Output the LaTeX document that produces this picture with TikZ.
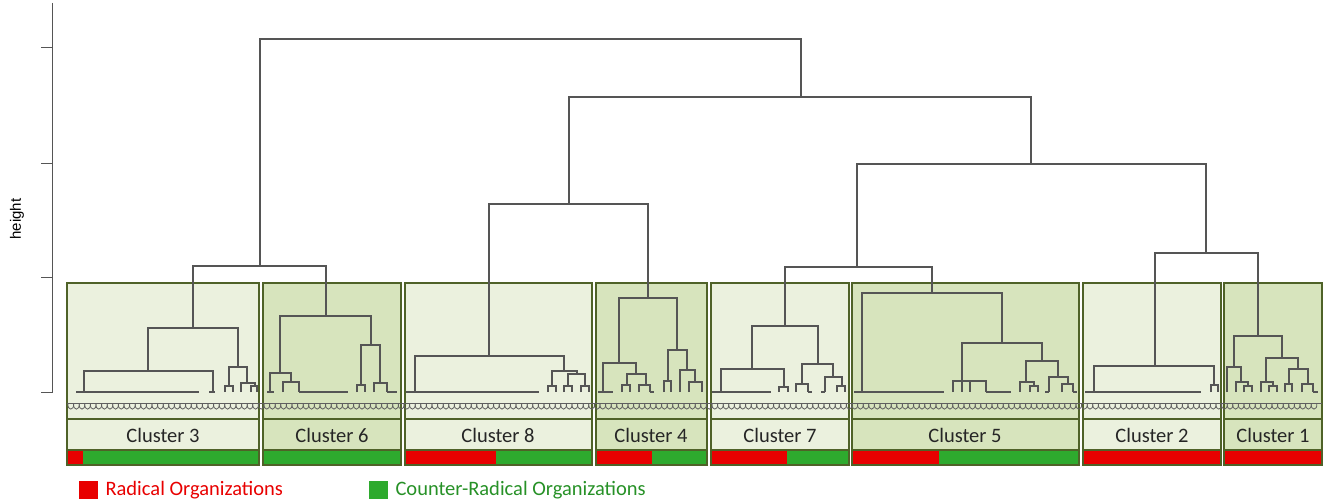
\documentclass[tikz,border=0pt]{standalone}
\usepackage{fontspec}
\setmainfont{Carlito}
\setsansfont{Liberation Sans}
\definecolor{boxlight}{RGB}{235,241,222}
\definecolor{boxdark}{RGB}{215,228,189}
\definecolor{boxedge}{RGB}{79,98,40}
\definecolor{radred}{RGB}{232,0,0}
\definecolor{cradgreen}{RGB}{46,170,46}
\definecolor{treegray}{RGB}{85,85,85}
\definecolor{chaingray}{RGB}{95,95,95}

\begin{document}
\begin{tikzpicture}[x=1pt,y=-1pt,
  tree/.style={draw=treegray,line width=1.1pt},
  axis/.style={draw=treegray,line width=1pt},
  clbox/.style={draw=boxedge,line width=2pt},
  chain/.style={draw=chaingray,line width=0.8pt},
  lab/.style={font=\fontsize{20.5}{23}\selectfont,text=black!85},
  leg/.style={anchor=west,font=\fontsize{20.5}{23}\selectfont}]
\useasboundingbox (0,0) rectangle (1328,503);

\draw[axis] (52,3) -- (52,393);
\draw[axis] (41,48) -- (52,48);
\draw[axis] (41,163) -- (52,163);
\draw[axis] (41,277) -- (52,277);
\draw[axis] (41,392) -- (52,392);
\node[rotate=90,font=\sffamily\fontsize{15}{17}\selectfont] (ylab) at (17,219) {height};

\filldraw[clbox,fill=boxlight] (67,283) rectangle (259,465);
\draw[clbox] (67,419) -- (259,419);
\draw[clbox] (67,450) -- (259,450);
\fill[radred] (68,451) rectangle (83,464);
\fill[cradgreen] (83,451) rectangle (258,464);
\node[lab] (c3) at (163,435) {Cluster 3};

\filldraw[clbox,fill=boxdark] (263,283) rectangle (401,465);
\draw[clbox] (263,419) -- (401,419);
\draw[clbox] (263,450) -- (401,450);
\fill[cradgreen] (264,451) rectangle (400,464);
\node[lab] (c6) at (332,435) {Cluster 6};

\filldraw[clbox,fill=boxlight] (405,283) rectangle (592,465);
\draw[clbox] (405,419) -- (592,419);
\draw[clbox] (405,450) -- (592,450);
\fill[radred] (406,451) rectangle (496,464);
\fill[cradgreen] (496,451) rectangle (591,464);
\node[lab] (c8) at (498,435) {Cluster 8};

\filldraw[clbox,fill=boxdark] (596,283) rectangle (707,465);
\draw[clbox] (596,419) -- (707,419);
\draw[clbox] (596,450) -- (707,450);
\fill[radred] (597,451) rectangle (652,464);
\fill[cradgreen] (652,451) rectangle (706,464);
\node[lab] (c4) at (651,435) {Cluster 4};

\filldraw[clbox,fill=boxlight] (711,283) rectangle (849,465);
\draw[clbox] (711,419) -- (849,419);
\draw[clbox] (711,450) -- (849,450);
\fill[radred] (712,451) rectangle (787,464);
\fill[cradgreen] (787,451) rectangle (848,464);
\node[lab] (c7) at (780,435) {Cluster 7};

\filldraw[clbox,fill=boxdark] (852,283) rectangle (1079,465);
\draw[clbox] (852,419) -- (1079,419);
\draw[clbox] (852,450) -- (1079,450);
\fill[radred] (853,451) rectangle (939,464);
\fill[cradgreen] (939,451) rectangle (1078,464);
\node[lab] (c5) at (965,435) {Cluster 5};

\filldraw[clbox,fill=boxlight] (1083,283) rectangle (1221,465);
\draw[clbox] (1083,419) -- (1221,419);
\draw[clbox] (1083,450) -- (1221,450);
\fill[radred] (1084,451) rectangle (1220,464);
\node[lab] (c2) at (1152,435) {Cluster 2};

\filldraw[clbox,fill=boxdark] (1224,283) rectangle (1322,465);
\draw[clbox] (1224,419) -- (1322,419);
\draw[clbox] (1224,450) -- (1322,450);
\fill[radred] (1225,451) rectangle (1321,464);
\node[lab] (c1) at (1273,435) {Cluster 1};

% leaf labels
\draw[chain] (67,403.5) -- (1322,403.5);
\foreach \x in {68,73.6,...,1316}
  \draw[chain] (\x,403.5) .. controls ({\x-0.8},411) and ({\x+6.4},411) .. ({\x+5.6},403.5);

% merges between clusters
\draw[tree] (193,328) -- (193,266) -- (326,266) -- (326,316);
\draw[tree] (489,356) -- (489,204) -- (648,204) -- (648,298);
\draw[tree] (785,326) -- (785,267) -- (932,267) -- (932,293);
\draw[tree] (1155,366) -- (1155,253) -- (1258,253) -- (1258,336);
\draw[tree] (857,267) -- (857,164) -- (1206,164) -- (1206,253);
\draw[tree] (569,204) -- (569,97) -- (1031,97) -- (1031,164);
\draw[tree] (260,266) -- (260,39) -- (801,39) -- (801,97);

% cluster 3
\draw[tree] (148,371) -- (148,328) -- (238,328) -- (238,367);
\draw[tree] (84,392) -- (84,371) -- (213,371) -- (213,392);
\draw[tree] (76,392) -- (199,392);
\draw[tree] (209,392) -- (215,392);
\draw[tree] (229,386) -- (229,367) -- (247,367) -- (247,383);
\draw[tree] (225,392) -- (225,386) -- (233,386) -- (233,392);
\draw[tree] (241,392) -- (241,383) -- (255,383) -- (255,386);
\draw[tree] (251,392) -- (251,386) -- (257,386) -- (257,392);

% cluster 6
\draw[tree] (280,373) -- (280,316) -- (371,316) -- (371,345);
\draw[tree] (270,392) -- (270,373) -- (291,373) -- (291,382);
\draw[tree] (283,392) -- (283,382) -- (299,382) -- (299,392);
\draw[tree] (267,392) -- (274,392);
\draw[tree] (299,392) -- (348,392);
\draw[tree] (361,385) -- (361,345) -- (380,345) -- (380,383);
\draw[tree] (357,392) -- (357,385) -- (365,385) -- (365,392);
\draw[tree] (374,392) -- (374,383) -- (387,383) -- (387,392);
\draw[tree] (387,392) -- (397,392);

% cluster 8
\draw[tree] (415,392) -- (415,356) -- (564,356) -- (564,371);
\draw[tree] (406,392) -- (539,392);
\draw[tree] (552,386) -- (552,371) -- (577,371) -- (577,374);
\draw[tree] (548,392) -- (548,386) -- (556,386) -- (556,392);
\draw[tree] (568,386) -- (568,374) -- (585,374) -- (585,386);
\draw[tree] (564,392) -- (564,386) -- (572,386) -- (572,392);
\draw[tree] (581,392) -- (581,386) -- (589,386) -- (589,392);

% cluster 4
\draw[tree] (619,363) -- (619,298) -- (677,298) -- (677,350);
\draw[tree] (603,392) -- (603,363) -- (636,363) -- (636,374);
\draw[tree] (598,392) -- (613,392);
\draw[tree] (627,385) -- (627,374) -- (646,374) -- (646,385);
\draw[tree] (622,392) -- (622,385) -- (630,385) -- (630,392);
\draw[tree] (639,392) -- (639,385) -- (650,385) -- (650,392);
\draw[tree] (650,392) -- (654,392);
\draw[tree] (668,381) -- (668,350) -- (687,350) -- (687,370);
\draw[tree] (664,392) -- (664,381) -- (671,381) -- (671,392);
\draw[tree] (680,392) -- (680,370) -- (695,370) -- (695,382);
\draw[tree] (689,392) -- (689,382) -- (702,382) -- (702,392);

% cluster 7
\draw[tree] (752,369) -- (752,326) -- (818,326) -- (818,364);
\draw[tree] (721,392) -- (721,369) -- (784,369) -- (784,387);
\draw[tree] (712,392) -- (771,392);
\draw[tree] (779,392) -- (779,387) -- (788,387) -- (788,392);
\draw[tree] (802,384) -- (802,364) -- (833,364) -- (833,377);
\draw[tree] (796,392) -- (796,384) -- (808,384) -- (808,392);
\draw[tree] (808,392) -- (812,392);
\draw[tree] (825,392) -- (825,377) -- (842,377) -- (842,386);
\draw[tree] (821,392) -- (825,392);
\draw[tree] (837,392) -- (837,386) -- (845,386) -- (845,392);

% cluster 5
\draw[tree] (862,392) -- (862,293) -- (1002,293) -- (1002,343);
\draw[tree] (854,392) -- (944,392);
\draw[tree] (962,381) -- (962,343) -- (1042,343) -- (1042,361);
\draw[tree] (953,392) -- (953,381) -- (986,381) -- (986,392);
\draw[tree] (962,381) -- (962,392);
\draw[tree] (970,381) -- (970,392);
\draw[tree] (986,392) -- (1011,392);
\draw[tree] (1026,382) -- (1026,361) -- (1058,361) -- (1058,377);
\draw[tree] (1020,392) -- (1020,382) -- (1034,382) -- (1034,386);
\draw[tree] (1030,392) -- (1030,386) -- (1038,386) -- (1038,392);
\draw[tree] (1049,392) -- (1049,377) -- (1068,377) -- (1068,384);
\draw[tree] (1045,392) -- (1049,392);
\draw[tree] (1062,392) -- (1062,384) -- (1073,384) -- (1073,392);
\draw[tree] (1073,392) -- (1077,392);

% cluster 2
\draw[tree] (1094,392) -- (1094,366) -- (1214,366) -- (1214,385);
\draw[tree] (1085,392) -- (1201,392);
\draw[tree] (1211,392) -- (1211,385) -- (1218,385) -- (1218,392);

% cluster 1
\draw[tree] (1234,367) -- (1234,336) -- (1282,336) -- (1282,358);
\draw[tree] (1227,392) -- (1227,367) -- (1241,367) -- (1241,382);
\draw[tree] (1236,392) -- (1236,382) -- (1248,382) -- (1248,386);
\draw[tree] (1244,392) -- (1244,386) -- (1252,386) -- (1252,392);
\draw[tree] (1266,382) -- (1266,358) -- (1298,358) -- (1298,369);
\draw[tree] (1261,392) -- (1261,382) -- (1273,382) -- (1273,386);
\draw[tree] (1269,392) -- (1269,386) -- (1277,386) -- (1277,392);
\draw[tree] (1289,384) -- (1289,369) -- (1308,369) -- (1308,384);
\draw[tree] (1285,392) -- (1285,384) -- (1292,384) -- (1292,392);
\draw[tree] (1302,392) -- (1302,384) -- (1313,384) -- (1313,392);
\draw[tree] (1313,392) -- (1318,392);

% legend
\fill[radred] (79,481) rectangle (98,499);
\node[leg,text=radred] (lrad) at (102,490) {Radical Organizations};
\fill[cradgreen] (369,481) rectangle (388,499);
\node[leg,text=cradgreen!85!black] (lcrad) at (392,490) {Counter-Radical Organizations};
\end{tikzpicture}
\end{document}
